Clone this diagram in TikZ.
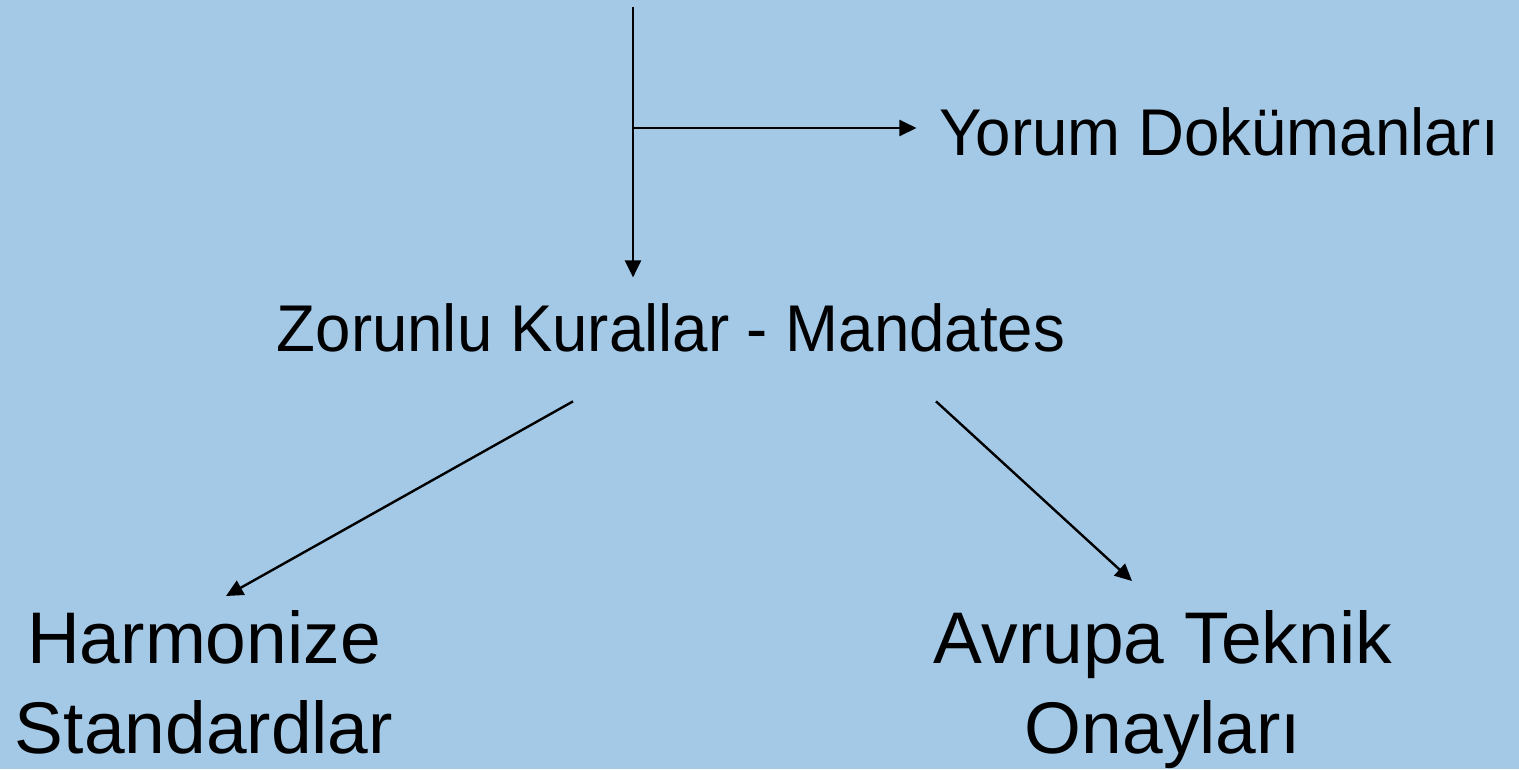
\documentclass[tikz,border=0pt]{standalone}
\usepackage{fontspec}
\setmainfont{Liberation Sans}
\newfontfamily\narrowsans{Liberation Sans}[FakeStretch=0.962]
\usepackage{xcolor}
\usetikzlibrary{arrows.meta,calc}
\definecolor{bgblue}{RGB}{163,201,231}

\begin{document}
\begin{tikzpicture}[x=0.01cm, y=-0.01cm,
    smalltext/.style={inner xsep=0.22cm, inner ysep=0.25cm, font=\narrowsans\fontsize{18.8}{22}\selectfont},
    bigtext/.style={inner sep=0.15cm, align=center, font=\fontsize{20.8}{25.4}\selectfont},
    link/.style={line width=0.024cm, -{Triangle[length=0.17cm,width=0.16cm]}}]
        % background
        \path[use as bounding box, fill=bgblue] (0,0) rectangle (1519,769);
        % rule levels
        \node[smalltext, anchor=base] (yorum) at (1219,155) {Yorum Dokümanları};
        \node[smalltext, anchor=base] (zorunlu) at (671,351) {Zorunlu Kurallar - Mandates};
        \node[bigtext, anchor=north] (harmonize) at (204,595) {Harmonize\\Standardlar};
        \node[bigtext, anchor=north] (avrupa) at (1163,595) {Avrupa Teknik\\Onayları};
        % connectors
        \coordinate (top) at (633,7);
        \coordinate (branch) at (633,128);
        \draw[link] (top) -- (top |- zorunlu.north);
        \draw[link] (branch) -- (branch -| yorum.west);
        \draw[link] ($(zorunlu.south)+(-98,24)$) -- ($(harmonize.north)+(22,1)$);
        \draw[link] ($(zorunlu.south)+(265,24)$) -- ($(avrupa.north)+(-31,-14)$);
    \end{tikzpicture}
\end{document}
